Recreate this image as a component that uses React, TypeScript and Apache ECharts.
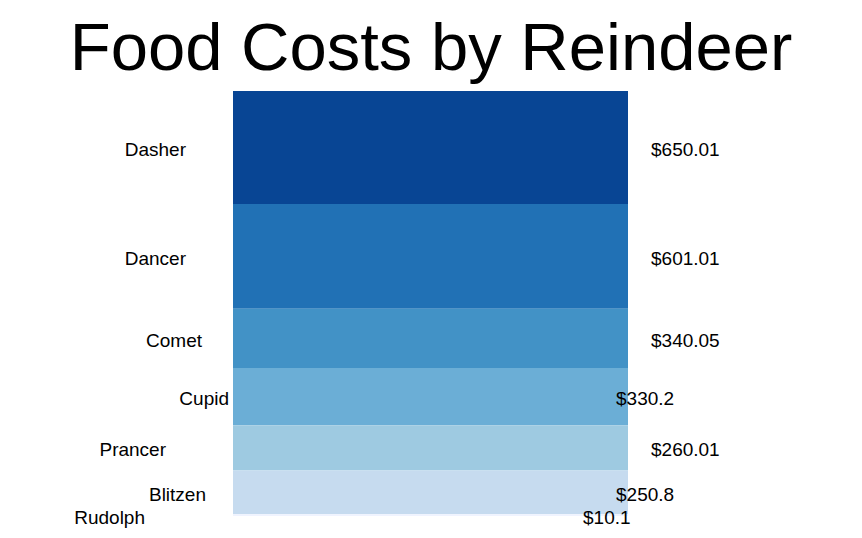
import React, { useEffect, useRef } from "react";
import * as echarts from "echarts";

const names = ["Dasher", "Dancer", "Comet", "Cupid", "Prancer", "Blitzen", "Rudolph"];
const costs = [650.01, 601.01, 340.05, 330.2, 260.01, 250.8, 10.1];
const colors = ["#084594", "#2171b5", "#4292c6", "#6baed6", "#9ecae1", "#c6dbef", "#eff3ff"];
// label placement nudges (px): left label gap from box left edge, right label gap from box right edge
const leftGap = [47, 47, 31, 4, 67, 27, 88];
const rightGap = [23, 23, 23, -12, 23, -12, -45];

export default function App() {
  const ref = useRef<HTMLDivElement>(null);
  useEffect(() => {
    document.body.style.margin = "0";
    const chart = echarts.init(ref.current!, null, { renderer: "svg" });
    const total = costs.reduce((a, b) => a + b, 0);
    let acc = 0;
    const data = costs.map((v, i) => {
      const s = acc;
      acc += v;
      return [s, acc, i];
    });
    chart.setOption({
      animation: false,
      title: {
        text: "Food Costs by Reindeer",
        left: "center",
        top: 8,
        textStyle: { fontFamily: "Liberation Sans", fontSize: 67, fontWeight: "normal", color: "#000" },
      },
      grid: { left: 233, top: 91, width: 395, height: 425 },
      xAxis: { type: "value", min: 0, max: 1, show: false },
      yAxis: { type: "value", min: 0, max: total, inverse: true, show: false },
      series: [
        {
          type: "custom",
          data,
          renderItem: (params: any, api: any) => {
            const s = api.value(0);
            const e = api.value(1);
            const i = api.value(2);
            const p0 = api.coord([0, s]);
            const p1 = api.coord([1, e]);
            const midY = (p0[1] + p1[1]) / 2;
            const font = "19px 'Liberation Sans', Arial, sans-serif";
            return {
              type: "group",
              children: [
                {
                  type: "rect",
                  shape: { x: p0[0], y: p0[1], width: p1[0] - p0[0], height: p1[1] - p0[1] },
                  style: { fill: colors[i] },
                },
                {
                  type: "text",
                  x: p0[0] - leftGap[i],
                  y: midY + 2,
                  style: { text: names[i], font, fill: "#000", align: "right", verticalAlign: "middle" },
                  z2: 10,
                },
                {
                  type: "text",
                  x: p1[0] + rightGap[i],
                  y: midY + 2,
                  style: { text: "$" + costs[i], font, fill: "#000", align: "left", verticalAlign: "middle" },
                  z2: 10,
                },
              ],
            };
          },
        },
      ],
    });
    return () => chart.dispose();
  }, []);
  return <div ref={ref} style={{ width: 862, height: 538 }} />;
}
